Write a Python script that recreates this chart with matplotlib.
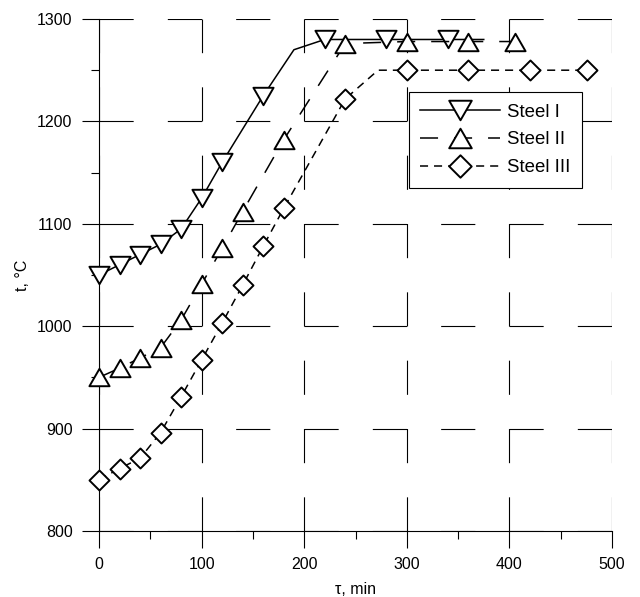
import matplotlib
matplotlib.use("Agg")
import matplotlib.pyplot as plt
from matplotlib.path import Path
from matplotlib.ticker import MultipleLocator

plt.rcParams['font.family'] = ['Liberation Sans', 'DejaVu Sans']
plt.rcParams['lines.scale_dashes'] = False

# data
steel1_t = [0, 20, 40, 60, 80, 100, 120, 160, 190, 220, 280, 340, 375]
steel1_temp = [1050, 1060, 1070, 1080, 1095, 1125, 1160, 1225, 1270, 1280, 1280, 1280, 1280]
steel1_marks = [0, 1, 2, 3, 4, 5, 6, 7, 9, 10, 11]

steel2_t = [0, 20, 40, 60, 80, 100, 120, 140, 180, 240, 300, 360, 405]
steel2_temp = [950, 959, 969, 979, 1006, 1041, 1076, 1112, 1182, 1276, 1278, 1278, 1278]

steel3_t = [0, 20, 40, 60, 80, 100, 120, 140, 160, 180, 240, 272, 300, 360, 420, 476]
steel3_temp = [850, 861, 871, 896, 931, 967, 1003, 1040, 1078, 1115, 1222, 1250, 1250, 1250, 1250, 1250]
steel3_marks = [0, 1, 2, 3, 4, 5, 6, 7, 8, 9, 10, 12, 13, 14, 15]

labels = ['Steel I', 'Steel II', 'Steel III']

# equilateral triangles / diamond centred on their bounding box
tri_down = Path([(0, -0.866), (-1, 0.866), (1, 0.866), (0, 0)], closed=True)
tri_up = Path([(0, 0.866), (-1, -0.866), (1, -0.866), (0, 0)], closed=True)
diamond = Path([(0, 1), (1, 0), (0, -1), (-1, 0), (0, 0)], closed=True)

fig = plt.figure(figsize=(6.4, 5.97), dpi=100)
ax = fig.add_axes([99 / 640, 1 - 531 / 597, 513 / 640, 512 / 597])

common = dict(color='black', markerfacecolor='white', markeredgecolor='black',
              markeredgewidth=1.4, clip_on=False, zorder=3)

ax.plot(steel1_t, steel1_temp, linestyle='-', linewidth=1.1, marker=tri_down,
        markersize=14.5, markevery=steel1_marks, label=labels[0], **common)
ax.plot(steel2_t, steel2_temp, linestyle=(0, (13, 11.5)), linewidth=1.1, marker=tri_up,
        markersize=14.5, label=labels[1], **common)
ax.plot(steel3_t, steel3_temp, linestyle=(0, (5.8, 4.3)), linewidth=1.1, marker=diamond,
        markersize=14.4, markevery=steel3_marks, label=labels[2], **common)

ax.set_xlim(0, 500)
ax.set_ylim(800, 1300)
ax.xaxis.set_major_locator(MultipleLocator(100))
ax.xaxis.set_minor_locator(MultipleLocator(50))
ax.yaxis.set_major_locator(MultipleLocator(100))
ax.yaxis.set_minor_locator(MultipleLocator(50))

ax.grid(True, which='major', color='black', linewidth=0.8,
        linestyle=(0, (24.6, 24.6)), zorder=1)
ax.set_axisbelow(True)

for side in ['top', 'right']:
    ax.spines[side].set_visible(False)
for side in ['left', 'bottom']:
    ax.spines[side].set_linewidth(0.8)

ax.tick_params(which='major', direction='out', length=12, width=0.8, pad=7, labelsize=11.5)
ax.tick_params(which='minor', direction='out', length=6, width=0.8)

ax.set_xlabel('τ, min', fontsize=11.5, labelpad=7)
ax.set_ylabel('t, °C', fontsize=11.5, labelpad=5)

leg = ax.legend(loc='upper left', bbox_to_anchor=(0.604, 0.857), fontsize=13.4,
                handlelength=4.29, handletextpad=0.38, labelspacing=0.57,
                borderpad=0.62, borderaxespad=0, fancybox=False, framealpha=1,
                edgecolor='black', markerscale=1.12)
leg.get_frame().set_linewidth(0.8)

fig.savefig('out.png', dpi=100)
